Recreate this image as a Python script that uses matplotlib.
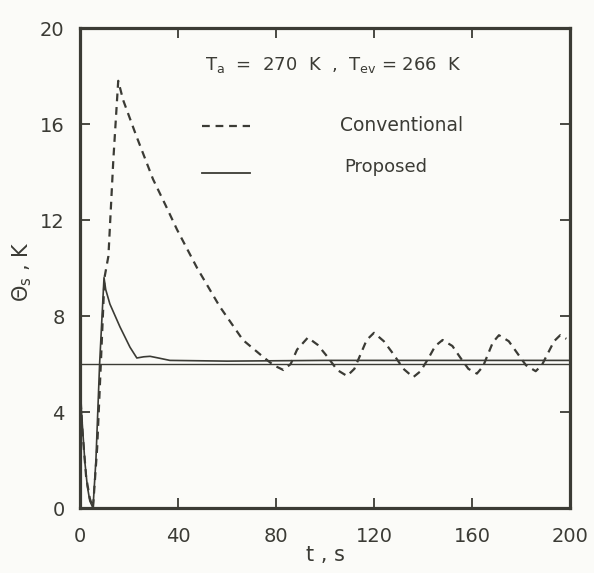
import matplotlib
matplotlib.use("Agg")
import matplotlib.pyplot as plt

# Conventional (dashed)
conv_t = [0, 1, 2.5, 4, 5.3, 7, 8.5, 10.0, 11.6, 13.6, 15.6, 17.6, 23, 29.8, 35, 39.6, 47.8, 57, 66.5, 74.7, 79, 83,
          86, 88.6, 93, 97, 101, 105, 109, 112, 114.5, 117, 120, 124, 128, 132, 136, 139, 142, 145, 148, 152, 155,
          158.5, 162, 164.5, 166.5, 168.5, 171, 175, 178.5, 182, 186, 188.5, 191, 193.5, 196, 198.5]
conv_v = [5.0, 3.2, 1.3, 0.4, 0.0, 2.5, 6.0, 9.6, 10.5, 14.5, 17.8, 17.0, 15.5, 13.7, 12.6, 11.6, 10.0, 8.4, 7.0, 6.3,
          5.95, 5.75, 6.0, 6.6, 7.1, 6.8, 6.3, 5.75, 5.5, 5.8, 6.4, 7.0, 7.3, 6.95, 6.4, 5.8, 5.45, 5.7, 6.2, 6.75,
          7.0, 6.75, 6.3, 5.8, 5.6, 5.9, 6.4, 6.9, 7.2, 6.95, 6.45, 5.95, 5.7, 5.95, 6.45, 6.95, 7.2, 7.05]

# Proposed (solid)
prop_t = [0, 1, 2, 3, 4, 5.3, 6.5, 8, 9.8, 10.5, 12.2, 16.3, 20.4, 23.2, 26, 28.6, 32, 36.7, 60, 100, 150, 200]
prop_v = [4.9, 3.4, 1.9, 0.9, 0.3, 0.0, 2.0, 6.0, 9.6, 9.1, 8.5, 7.55, 6.7, 6.25, 6.3, 6.32, 6.25, 6.15, 6.12, 6.15,
          6.15, 6.15]

ref_level = 6.0

x_ticks = [0, 40, 80, 120, 160, 200]
y_ticks = [0, 4, 8, 12, 16, 20]

ink = "#3b3b35"
plt.rcParams["mathtext.fontset"] = "dejavusans"

fig = plt.figure(figsize=(5.94, 5.73), dpi=100, facecolor="#fbfbf8")
ax = fig.add_axes([80/594, 1-508/573, 490/594, 480/573])
ax.set_facecolor("#fbfbf8")

ax.axhline(ref_level, color=ink, lw=1.0)
ax.plot(conv_t, conv_v, color=ink, lw=1.6, linestyle=(0, (3.5, 2.6)))
ax.plot(prop_t, prop_v, color=ink, lw=1.2)

ax.set_xlim(0, 200)
ax.set_ylim(0, 20)
ax.set_xticks(x_ticks)
ax.set_yticks(y_ticks)
for s in ax.spines.values():
    s.set_linewidth(2.3)
    s.set_color(ink)
ax.tick_params(direction="in", length=7, width=1.3, color=ink, labelcolor=ink,
               labelsize=14, top=True, right=True)
ax.tick_params(axis="x", pad=14)
ax.tick_params(axis="y", pad=11)

ax.text(51, 18.45, "T$_{\\rm a}$  =  270  K  ,  T$_{\\rm ev}$ = 266  K", color=ink, fontsize=13, va="center")
ax.plot([49.8, 69.4], [15.9, 15.9], color=ink, lw=1.6, linestyle=(0, (3.5, 2.6)))
ax.text(106, 15.95, "Conventional", color=ink, fontsize=13.5, va="center")
ax.plot([49.8, 69.4], [13.95, 13.95], color=ink, lw=1.3)
ax.text(108, 14.2, "Proposed", color=ink, fontsize=13, va="center")

fig.text(325/594, 1-555/573, "t , s", color=ink, fontsize=15, ha="center", va="center")
fig.text(22/594, 1-272/573, "$\\Theta_{\\rm s}$ , K", color=ink, fontsize=15, ha="center", va="center",
         rotation=90)

fig.savefig("out.png", dpi=100, facecolor=fig.get_facecolor())
